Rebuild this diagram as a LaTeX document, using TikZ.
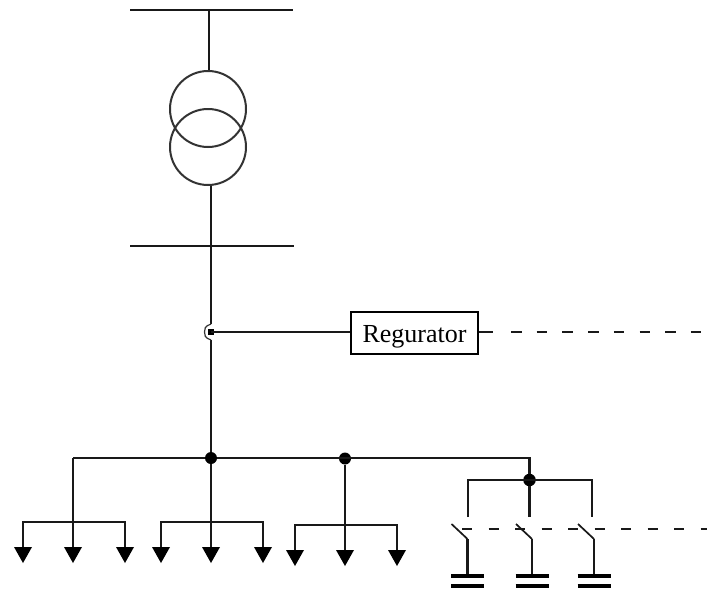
\documentclass[tikz,border=0pt]{standalone}
\usepackage{fontspec}
\setmainfont{Liberation Serif}
\tikzset{
  x=1pt,y=-1pt,
  wire/.style={line width=2.1pt,color=black!90},
  winding/.style={circle,draw=black!80,line width=2pt,minimum size=76pt,inner sep=0pt,fill=none},
  dotnode/.style={circle,fill=black,inner sep=0pt,minimum size=12pt},
  ctrl/.style={line width=1.9pt,color=black!90,dash pattern=on 10.5pt off 15.2pt},
  ctrllow/.style={line width=1.9pt,color=black!90,dash pattern=on 10pt off 16.5pt},
  plate/.style={line width=3.6pt,color=black},
  regbox/.style={draw=black,line width=2.1pt,fill=white,minimum width=127pt,minimum height=42pt,inner sep=0pt,text height=18pt,text depth=0pt,font=\fontsize{26}{26}\selectfont}
}
\newcommand{\loadtip}[1]{\fill[black] (#1) ++(-9,0) -- ++(18,0) -- ++(-9,16) -- cycle;}
\begin{document}
\begin{tikzpicture}
\useasboundingbox (0,0) rectangle (707,590);
% buses and transformer
\coordinate (b1l) at (130,10); \coordinate (b1r) at (293,10); \coordinate (b1t) at (209,10);
\coordinate (b2l) at (130,246); \coordinate (b2r) at (294,246);
\node[winding] (w1) at (208,109) {};
\node[winding] (w2) at (208,147) {};
\draw[wire] (b1l) -- (b1r);
\draw[wire] (b1t) -- (w1.north -| b1t);
\draw[wire] (b2l) -- (b2r);
\coordinate (w2b) at (211,186);
\coordinate (tapu) at (211,324);
\coordinate (tapl) at (211,340);
\coordinate (tapc) at (211,332);
\node[dotnode] (main) at (211,458) {};
\draw[wire] (w2b) -- (tapu);
\draw[wire] (tapl) -- (main);
\draw[line width=1.2pt,black!80] (tapu) .. controls (205,326) and (204,329) .. (204.5,332) .. controls (204,335) and (205,338) .. (tapl);
\node[fill=black,inner sep=0pt,minimum size=6pt] (tap) at (tapc) {};
% regulator
\node[regbox] (reg) at (414.5,333) {Regurator};
\coordinate (regout) at (493,332);
\coordinate (regd1) at (511,332);
\coordinate (regd2) at (707,332);
\draw[wire] (tapc) -- (reg.west |- tapc);
\draw[wire] (reg.east |- regout) -- (regout);
\draw[ctrl] (regd1) -- (regd2);
% feeder bus
\node[dotnode] (d2) at (345,458.5) {};
\node[dotnode,minimum size=12.5pt] (d3) at (529.5,480) {};
\coordinate (fl) at (73,458); \coordinate (fr) at (529.5,458);
\draw[wire] (main) -- (fl);
\draw[wire] (main) -- (fr) -- (d3);
% load groups
\foreach \n/\xx/\yb/\xa/\xc in {a/73/522/23/125,b/211/522/161/263,c/345/525/295/397}{
  \coordinate (\n l) at (\xa,\yb); \coordinate (\n r) at (\xc,\yb); \coordinate (\n m) at (\xx,\yb);
  \pgfmathsetmacro{\ytip}{\yb+25}
  \coordinate (\n L) at (\xa,\ytip); \coordinate (\n R) at (\xc,\ytip); \coordinate (\n M) at (\xx,\ytip);
  \draw[wire] (\n L) -- (\n l) -- (\n r) -- (\n R);
  \loadtip{\n L} \loadtip{\n M} \loadtip{\n R}
}
\draw[wire] (fl) -- (aM);
\draw[wire] (main) -- (bM);
\draw[wire] (d2) -- (cM);
% capacitor bus
\coordinate (s1t) at (468,517); \coordinate (s1c) at (468,480);
\coordinate (s2t) at (529.5,517);
\coordinate (s3t) at (592,517); \coordinate (s3c) at (592,480);
\draw[wire] (s1t) -- (s1c) -- (s3c) -- (s3t);
\draw[wire] (d3) -- (s2t);
% control dashes
\coordinate (c1) at (462,529); \coordinate (c2) at (707,529);
\draw[ctrllow] (c1) -- (c2);
% switches and capacitors
\foreach \n/\xx in {p/467.5,q/532,r/594}{
  \coordinate (\n k) at (\xx,539);
  \coordinate (\n b) at (\xx-16,524);
  \coordinate (\n p1) at (\xx,576);
  \coordinate (\n l1) at (\xx-16.5,576); \coordinate (\n r1) at (\xx+16.5,576);
  \coordinate (\n l2) at (\xx-16.5,586); \coordinate (\n r2) at (\xx+16.5,586);
  \draw[line width=1.7pt,black!90] (\n b) -- (\n k);
  \draw[wire] (\n k) -- (\n p1);
  \draw[plate] (\n l1) -- (\n r1);
  \draw[plate] (\n l2) -- (\n r2);
}
\end{tikzpicture}
\end{document}
